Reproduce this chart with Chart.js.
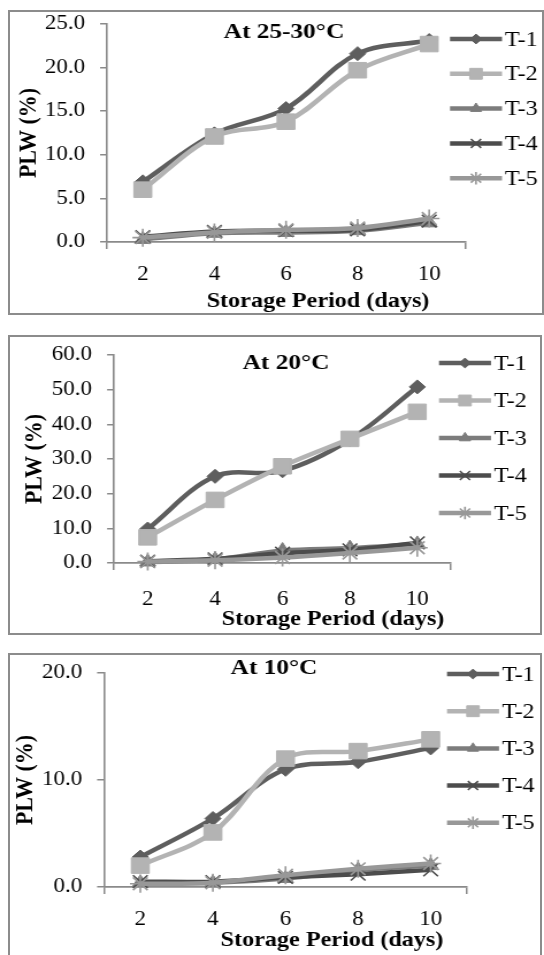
<!DOCTYPE html>
<html>
<head>
<meta charset="utf-8">
<script src="https://cdn.jsdelivr.net/npm/chart.js@4.4.1/dist/chart.umd.min.js"></script>
<style>
  html, body { margin: 0; padding: 0; background: #fff; }
  body { width: 544px; height: 955px; position: relative; overflow: hidden; }
  .panel { position: absolute; left: 8px; border: 2px solid #8c8c8c; box-sizing: border-box; }
  /* the source figure is a little wider than tall, so the canvas is stretched sideways */
  canvas { position: absolute; left: 0; transform-origin: 0 0; }
</style>
</head>
<body>
<div class="panel" style="top:10px;width:536px;height:305px"></div>
<div class="panel" style="top:335px;width:534px;height:300px"></div>
<div class="panel" style="top:653px;width:534px;height:320px"></div>
<canvas id="c1" width="473" height="304" style="top:10px"></canvas>
<canvas id="c2" width="473" height="299" style="top:335px"></canvas>
<canvas id="c3" width="473" height="302" style="top:653px"></canvas>
<script>
// storage days on the x axis
const days = ["2", "4", "6", "8", "10"];
const seriesNames = ["T-1", "T-2", "T-3", "T-4", "T-5"];

// PLW (%) at 25-30°C
const hotT1 = [6.9, 12.4, 15.3, 21.6, 23.1];
const hotT2 = [6.0, 12.1, 13.8, 19.7, 22.7];
const hotT3 = [0.3, 1.0, 1.1, 1.3, 2.2];
const hotT4 = [0.6, 1.2, 1.3, 1.4, 2.4];
const hotT5 = [0.5, 1.1, 1.4, 1.6, 2.7];

// PLW (%) at 20°C
const midT1 = [9.8, 25.0, 26.6, 35.6, 50.8];
const midT2 = [7.4, 18.2, 27.9, 35.8, 43.6];
const midT3 = [0.3, 1.0, 3.6, 4.3, 5.5];
const midT4 = [0.5, 1.2, 2.8, 3.8, 5.8];
const midT5 = [0.4, 0.8, 1.6, 2.9, 4.4];

// PLW (%) at 10°C
const coldT1 = [2.8, 6.4, 11.0, 11.7, 13.0];
const coldT2 = [2.0, 5.1, 12.0, 12.7, 13.8];
const coldT3 = [0.4, 0.4, 0.8, 1.6, 2.0];
const coldT4 = [0.5, 0.5, 0.9, 1.2, 1.6];
const coldT5 = [0.3, 0.4, 1.1, 1.7, 2.2];

// y axis ranges
const yMax = [25, 60, 20];
const yStep = [5, 10, 10];

const SX = 544 / 473;
document.querySelectorAll("canvas").forEach((c) => { c.style.transform = `scaleX(${SX})`; });

const serif = "'Liberation Serif', 'Times New Roman', serif";
const axisGray = "#8a8a8a";

const looks = [
  { color: "#5e5e5e", point: "rectRot", r: 7, pw: 1 },
  { color: "#b3b3b3", point: "rect", r: 11, pw: 1 },
  { color: "#7c7c7c", point: "triangle", r: 8, pw: 1 },
  { color: "#4c4c4c", point: "crossRot", r: 9, pw: 1.6 },
  { color: "#989898", point: "star", r: 9, pw: 1.6 },
];

function markerAt(ctx, look, x, y, r) {
  ctx.save();
  ctx.fillStyle = look.color;
  ctx.strokeStyle = look.color;
  ctx.lineWidth = look.pw;
  Chart.helpers.drawPoint(ctx, { pointStyle: look.point, radius: r, rotation: 0, borderWidth: look.pw }, x, y);
  ctx.restore();
}

// chart title, x axis title and the legend, placed in page pixels
const decor = {
  id: "decor",
  afterDraw(chart, args, o) {
    const ctx = chart.ctx;
    ctx.save();
    ctx.fillStyle = "#000";
    ctx.textBaseline = "middle";
    ctx.textAlign = "center";
    ctx.font = "bold 22px " + serif;
    ctx.fillText(o.title, o.titleX / SX, o.titleY);
    ctx.font = "bold 21px " + serif;
    ctx.fillText("Storage Period (days)", o.xTitleX / SX, o.xTitleY);

    seriesNames.forEach((name, i) => {
      const y = o.legendY + i * o.legendGap;
      const x0 = o.legendX / SX;
      const x1 = (o.legendX + 52) / SX;
      const look = looks[i];
      ctx.strokeStyle = look.color;
      ctx.lineWidth = 4.5;
      ctx.beginPath();
      ctx.moveTo(x0, y);
      ctx.lineTo(x1, y);
      ctx.stroke();
      markerAt(ctx, look, (x0 + x1) / 2, y, look.r * 0.7);
      ctx.fillStyle = "#000";
      ctx.textAlign = "left";
      ctx.font = "21px " + serif;
      ctx.fillText(name, (o.legendX + 55) / SX, y + 1);
    });
    ctx.restore();
  },
};

function makeChart(id, series, k, box, deco) {
  new Chart(document.getElementById(id), {
    type: "line",
    data: {
      labels: days,
      datasets: series.map((vals, i) => ({
        label: seriesNames[i],
        data: vals,
        order: 5 - i,
        borderColor: looks[i].color,
        backgroundColor: looks[i].color,
        borderWidth: 4.5,
        tension: 0.35,
        pointStyle: looks[i].point,
        pointRadius: looks[i].r,
        pointBorderWidth: looks[i].pw,
        pointBackgroundColor: looks[i].color,
        pointBorderColor: looks[i].color,
        clip: false,
      })),
    },
    options: {
      responsive: false,
      animation: false,
      devicePixelRatio: 1,
      layout: { padding: { left: 0, top: box.top, right: (544 - box.right) / SX, bottom: 0 } },
      plugins: {
        legend: { display: false },
        tooltip: { enabled: false },
        decor: deco,
      },
      scales: {
        x: {
          offset: true,
          grid: {
            offset: true,
            drawOnChartArea: false,
            tickLength: 7,
            lineWidth: 1.5,
            color: (c) => (c.index === 0 || c.index === undefined ? axisGray : "rgba(0,0,0,0)"),
          },
          border: { color: axisGray, width: 1.8 },
          ticks: { color: "#000", padding: box.xp, font: { family: serif, size: 20 } },
          afterFit: (s) => { s.height = box.xh; s.paddingLeft = 0; s.paddingRight = 0; },
        },
        y: {
          min: 0,
          max: yMax[k],
          grid: { drawOnChartArea: false, tickLength: 6, lineWidth: 1.5, color: axisGray },
          border: { color: axisGray, width: 1.6 },
          ticks: {
            stepSize: yStep[k],
            color: "#000",
            padding: 13,
            font: { family: serif, size: 20 },
            callback: (v) => Number(v).toFixed(1),
          },
          title: {
            display: true,
            text: "PLW (%)",
            color: "#000",
            font: { family: serif, size: 22, weight: "bold" },
            padding: { top: box.yt, bottom: 0 },
          },
          afterFit: (s) => { s.width = box.left / SX; s.paddingTop = 0; s.paddingBottom = 0; },
        },
      },
    },
    plugins: [decor],
  });
}

makeChart("c1", [hotT1, hotT2, hotT3, hotT4, hotT5], 0,
  { left: 107, right: 465, top: 14, xh: 72, xp: 14, yt: 12 },
  { title: "At 25-30°C", titleX: 284, titleY: 22, xTitleX: 318, xTitleY: 292, legendX: 450, legendY: 29, legendGap: 34.8 });

makeChart("c2", [midT1, midT2, midT3, midT4, midT5], 1,
  { left: 114, right: 451, top: 20, xh: 71, xp: 18, yt: 17 },
  { title: "At 20°C", titleX: 286, titleY: 28, xTitleX: 333, xTitleY: 285, legendX: 439, legendY: 28, legendGap: 37.5 });

makeChart("c3", [coldT1, coldT2, coldT3, coldT4, coldT5], 2,
  { left: 104, right: 467, top: 20, xh: 68, xp: 14, yt: 9 },
  { title: "At 10°C", titleX: 274, titleY: 15, xTitleX: 332, xTitleY: 288, legendX: 447, legendY: 21, legendGap: 37.2 });
</script>
</body>
</html>
